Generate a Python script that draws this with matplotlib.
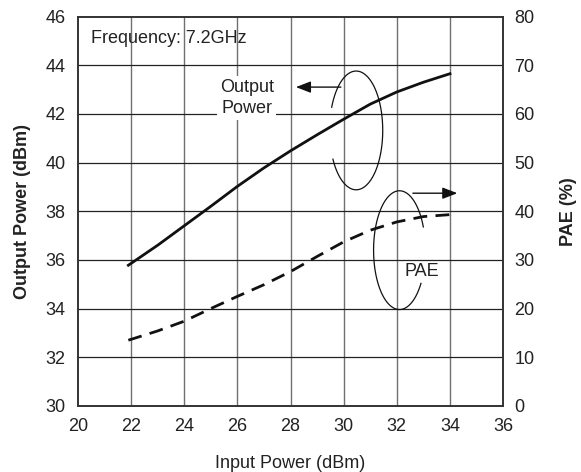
import numpy as np
import matplotlib
matplotlib.use('Agg')
import matplotlib.pyplot as plt

plt.rcParams['font.family'] = ['Liberation Sans', 'DejaVu Sans']

# data
pin = [21.9, 23, 24, 25, 26, 27, 28, 29, 30, 31, 32, 33, 34]
pout = [35.78, 36.6, 37.4, 38.2, 39.02, 39.78, 40.48, 41.14, 41.78, 42.4, 42.9, 43.3, 43.65]
pae = [13.5, 15.4, 17.4, 20.0, 22.5, 24.9, 27.6, 30.7, 33.7, 36.1, 37.8, 38.9, 39.3]

xticks = [20, 22, 24, 26, 28, 30, 32, 34, 36]
lticks = [30, 32, 34, 36, 38, 40, 42, 44, 46]
rticks = [0, 10, 20, 30, 40, 50, 60, 70, 80]

fs = 13

fig = plt.figure(figsize=(5.81, 4.72), dpi=100)
ax = fig.add_axes([0.134, 0.140, 0.732, 0.825])
ax2 = ax.twinx()

ax.set_xlim(20, 36)
ax.set_ylim(30, 46)
ax2.set_ylim(0, 80)
ax.set_xticks(xticks)
ax.set_yticks(lticks)
ax2.set_yticks(rticks)

# grid: vertical lines grey, horizontal darker
for x in xticks[1:-1]:
    ax.axvline(x, color='#707070', lw=1.0, zorder=1)
for y in lticks[1:-1]:
    ax.axhline(y, color='#222222', lw=0.9, zorder=1)

for a in (ax, ax2):
    for s in a.spines.values():
        s.set_color('#333333')
        s.set_linewidth(1.2)
    a.tick_params(length=0, labelsize=fs, colors='#222222')
ax.tick_params(axis='x', pad=9)
ax.tick_params(axis='y', pad=9)
ax2.tick_params(axis='y', pad=8)

ax.plot(pin, pout, color='#111111', lw=2.0, zorder=3)
ax2.plot(pin, pae, color='#111111', lw=2.0, ls=(0, (5, 3)), zorder=3)

ax.set_xlabel('Input Power (dBm)', fontsize=fs, labelpad=14, color='#222222')
ax.set_ylabel('Output Power (dBm)', fontsize=fs, fontweight='bold', labelpad=10, color='#222222')
ax2.set_ylabel('PAE (%)', fontsize=fs, fontweight='bold', labelpad=18, color='#222222')

ax.text(20.5, 45.1, 'Frequency: 7.2GHz', fontsize=fs, va='center', ha='left', color='#222222', zorder=4)
ax.text(26.35, 42.65, 'Output\nPower', fontsize=fs, va='center', ha='center', color='#222222',
        linespacing=1.3, zorder=4, bbox=dict(facecolor='white', edgecolor='none', pad=2))
ax2.text(32.95, 27.6, 'PAE', fontsize=fs, va='center', ha='center', color='#222222',
         zorder=4, bbox=dict(facecolor='white', edgecolor='none', pad=1))

# open ellipses marking each curve
t = np.radians(np.linspace(-151, 157, 200))
ax.plot(30.47 + 1.0 * np.cos(t), 41.32 + 2.44 * np.sin(t), color='#111111', lw=0.9, zorder=5)
t = np.radians(np.linspace(23, 326, 200))
ax2.plot(32.1 + 0.975 * np.cos(t), 32.0 + 12.2 * np.sin(t), color='#111111', lw=0.9, zorder=5)

# arrows pointing to the matching axis
ax.annotate('', xy=(28.1, 43.1), xytext=(30.0, 43.1),
            arrowprops=dict(arrowstyle='-|>,head_length=0.9,head_width=0.35', color='#111111', lw=1.0),
            zorder=5)
ax2.annotate('', xy=(34.38, 43.7), xytext=(32.5, 43.7),
             arrowprops=dict(arrowstyle='-|>,head_length=0.9,head_width=0.35', color='#111111', lw=1.0),
             zorder=5, annotation_clip=False)

fig.savefig('out.png', dpi=100)
